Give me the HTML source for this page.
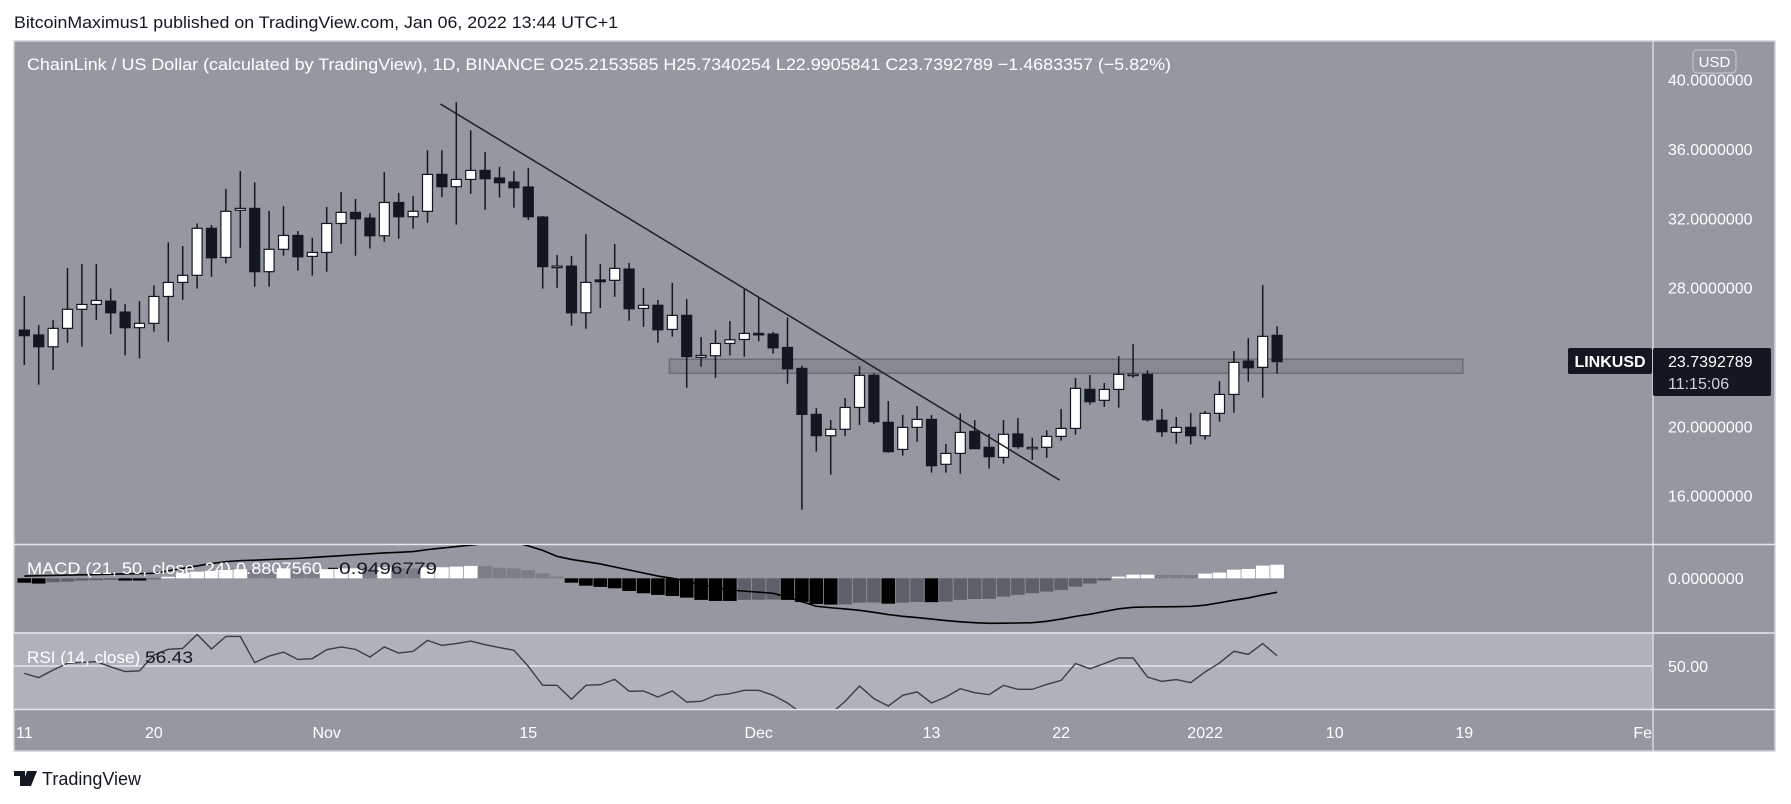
<!DOCTYPE html>
<html><head><meta charset="utf-8"><title>LINKUSD</title>
<style>
html,body{margin:0;padding:0;background:#fff;width:1791px;height:804px;overflow:hidden}
svg{display:block;font-family:"Liberation Sans","DejaVu Sans",sans-serif}
</style></head>
<body>
<svg id="chart" width="1791" height="804" viewBox="0 0 1791 804">
<defs>
<clipPath id="clipMain"><rect x="14" y="42" width="1639" height="502"/></clipPath>
<clipPath id="clipMacd"><rect x="14" y="545" width="1639" height="87"/></clipPath>
<clipPath id="clipRsi"><rect x="14" y="634" width="1639" height="75"/></clipPath>
</defs>
<text x="14" y="28" font-size="17" fill="#131722" textLength="604" lengthAdjust="spacingAndGlyphs">BitcoinMaximus1 published on TradingView.com, Jan 06, 2022 13:44 UTC+1</text>
<rect x="14" y="41" width="1761" height="710" fill="#9598a1" stroke="#d1d4dc" stroke-width="1.5"/>
<rect x="14" y="633" width="1639" height="76" fill="#afb2ba"/>
<line x1="14" y1="544.5" x2="1775" y2="544.5" stroke="#e8e9ec" stroke-width="1.5"/>
<line x1="14" y1="633" x2="1775" y2="633" stroke="#e8e9ec" stroke-width="1.5"/>
<line x1="14" y1="709.5" x2="1775" y2="709.5" stroke="#e8e9ec" stroke-width="1.5"/>
<line x1="14" y1="666" x2="1653" y2="666" stroke="#eef0f3" stroke-width="1.2"/>
<line x1="1653" y1="41" x2="1653" y2="751" stroke="#e8e9ec" stroke-width="1.2"/>
<g id="gMain" clip-path="url(#clipMain)"></g>
<g id="gMacd" clip-path="url(#clipMacd)"></g>
<g id="gRsi" clip-path="url(#clipRsi)"></g>
<g id="gAxis"></g>
<text x="27" y="70" font-size="17" fill="#ffffff" textLength="1144" lengthAdjust="spacingAndGlyphs">ChainLink / US Dollar (calculated by TradingView), 1D, BINANCE  O25.2153585  H25.7340254  L22.9905841  C23.7392789  −1.4683357 (−5.82%)</text>
<text x="27" y="574" font-size="17"><tspan fill="#ffffff" textLength="300" lengthAdjust="spacingAndGlyphs">MACD (21, 50, close, 24)  0.8807560 </tspan><tspan fill="#131722" textLength="110" lengthAdjust="spacingAndGlyphs"> −0.9496779</tspan></text>
<text x="27" y="663" font-size="17"><tspan fill="#ffffff" textLength="118" lengthAdjust="spacingAndGlyphs">RSI (14, close) </tspan><tspan fill="#131722" textLength="48" lengthAdjust="spacingAndGlyphs"> 56.43</tspan></text>
<rect x="1693" y="50" width="43" height="23" rx="4" fill="none" stroke="#c8cad0" stroke-width="1"/>
<text x="1714.5" y="67" font-size="15" fill="#ffffff" text-anchor="middle">USD</text>
<rect x="1568" y="348" width="84" height="26" rx="2" fill="#131722"/>
<text x="1610" y="367" font-size="16" fill="#ffffff" text-anchor="middle" font-weight="bold">LINKUSD</text>
<rect x="1653" y="348" width="118" height="48" rx="2" fill="#131722"/>
<text x="1668" y="367" font-size="16" fill="#ffffff">23.7392789</text>
<text x="1668" y="389" font-size="16" fill="#d1d4dc">11:15:06</text>
<text x="1668" y="584" font-size="16" fill="#ffffff">0.0000000</text>
<text x="1668" y="672" font-size="16" fill="#ffffff">50.00</text>
<g>
<path d="M14 771 h11 v15 h-5 v-10 h-6z M27 771 h4 l-4 15 h-5z M31 771 h6 l-6 15 h-4z" fill="#131722"/>
<text x="42" y="785" font-size="18" fill="#131722">TradingView</text>
</g>
</svg>
<script>
// ---- data (Oct 11 2021 .. Jan 6 2022, daily) ----
const opens  = [25.55,25.27,24.59,25.65,26.75,27.03,27.22,26.59,25.69,25.94,27.49,28.30,28.71,31.42,29.74,32.46,32.57,28.92,30.21,31.01,29.80,30.03,31.70,32.34,32.01,30.99,32.91,32.09,32.40,34.53,33.82,34.24,34.76,34.32,34.09,33.80,32.07,29.22,29.24,26.55,28.44,28.42,29.07,26.80,26.98,25.59,26.40,23.98,24.07,24.78,25.01,25.36,25.32,24.55,23.34,20.69,19.46,19.83,21.09,22.94,20.23,18.67,19.94,20.40,17.81,18.44,19.71,18.79,18.21,19.56,18.77,18.79,19.42,19.88,22.13,21.50,22.13,23.00,23.00,20.35,19.65,19.94,19.46,20.75,21.84,23.76,23.40,25.25];
const highs  = [27.52,25.84,26.13,29.13,29.36,29.36,27.95,27.05,27.22,28.13,30.61,30.40,31.70,31.61,33.69,34.72,34.07,32.42,32.70,31.26,30.86,32.65,33.51,33.11,32.28,34.66,33.46,33.28,35.92,35.92,38.69,37.07,35.82,34.97,34.72,34.89,32.13,29.88,29.82,31.09,29.36,30.51,29.42,27.98,27.29,28.27,27.34,25.15,25.55,26.07,27.96,27.46,25.44,26.28,23.49,21.05,20.36,21.63,23.48,23.06,21.46,20.66,21.17,20.65,18.98,20.74,20.36,19.56,20.36,20.48,19.33,19.77,21.00,22.79,22.96,22.50,24.05,24.74,23.23,21.00,20.54,20.77,20.88,22.61,24.34,25.09,28.15,25.77];
const lows   = [23.54,22.40,23.25,24.82,24.59,26.13,25.32,24.10,23.92,25.46,24.88,27.30,27.94,28.63,29.40,30.30,28.05,28.05,29.84,28.98,28.69,28.92,30.53,29.84,30.25,30.65,30.82,31.40,31.74,33.22,31.63,33.41,32.49,33.19,32.61,31.90,27.94,27.99,25.80,25.63,26.82,27.47,26.09,25.74,24.82,25.17,22.23,23.44,22.80,24.09,24.01,24.90,24.19,22.46,15.19,18.54,17.21,19.44,20.07,20.14,18.48,18.31,19.11,17.33,17.33,17.27,18.71,17.56,17.85,18.71,18.06,18.19,19.17,19.52,21.25,21.13,21.08,22.80,20.27,19.40,19.00,18.96,19.23,20.27,20.79,22.57,21.65,23.04];
const closes = [25.23,24.59,25.65,26.75,27.03,27.26,26.55,25.69,25.94,27.49,28.30,28.71,31.42,29.72,32.40,32.57,28.92,30.21,31.01,29.78,30.03,31.70,32.34,31.97,30.99,32.91,32.09,32.40,34.53,33.82,34.24,34.76,34.28,34.05,33.76,32.09,29.21,29.24,26.55,28.30,28.34,29.11,26.78,26.98,25.57,26.40,24.02,24.09,24.78,24.99,25.36,25.30,24.53,23.32,20.69,19.46,19.83,21.09,22.94,20.27,18.54,19.94,20.40,17.73,18.44,19.65,18.71,18.25,19.54,18.83,18.79,19.42,19.88,22.19,21.42,22.13,23.00,23.01,20.38,19.69,19.94,19.46,20.75,21.84,23.69,23.38,25.19,23.73];
const macdHist = [-0.29,-0.35,-0.26,-0.22,-0.15,-0.13,-0.10,-0.15,-0.15,-0.05,0.10,0.33,0.44,0.49,0.55,0.60,0.55,0.50,0.66,0.55,0.50,0.60,0.66,0.66,0.60,0.73,0.66,0.65,0.73,0.73,0.77,0.82,0.80,0.70,0.66,0.55,0.33,0.11,-0.29,-0.49,-0.57,-0.66,-0.84,-0.99,-1.10,-1.17,-1.28,-1.43,-1.50,-1.50,-1.43,-1.42,-1.41,-1.43,-1.57,-1.70,-1.74,-1.73,-1.61,-1.60,-1.68,-1.61,-1.57,-1.58,-1.55,-1.43,-1.37,-1.36,-1.21,-1.10,-0.99,-0.88,-0.77,-0.55,-0.35,-0.15,0.11,0.24,0.24,0.23,0.22,0.21,0.31,0.38,0.57,0.62,0.84,0.90];
const macdLine = [0.15,0.17,0.19,0.21,0.23,0.25,0.27,0.29,0.31,0.33,0.50,0.66,0.82,0.98,1.10,1.17,1.20,1.24,1.28,1.32,1.38,1.44,1.50,1.56,1.62,1.68,1.72,1.77,1.90,2.00,2.10,2.20,2.30,2.40,2.40,2.15,1.85,1.45,1.25,1.10,0.95,0.75,0.55,0.35,0.15,0.00,-0.20,-0.40,-0.60,-0.77,-0.85,-0.92,-0.99,-1.25,-1.55,-1.85,-1.95,-2.03,-2.12,-2.25,-2.40,-2.52,-2.60,-2.70,-2.80,-2.88,-2.94,-2.98,-2.97,-2.96,-2.94,-2.85,-2.70,-2.52,-2.38,-2.20,-2.02,-1.92,-1.90,-1.89,-1.88,-1.86,-1.78,-1.62,-1.45,-1.30,-1.10,-0.93];
const rsiValues = [45.4,42.7,47.5,51.7,52.2,52.7,49.5,46.5,47.0,56.9,60.4,61.0,69.8,60.6,68.5,68.5,52.1,56.2,58.7,54.1,54.6,60.2,61.9,60.4,55.6,61.9,58.1,59.2,66.0,62.9,64.0,65.6,63.3,61.5,59.8,49.8,37.9,37.9,29.2,37.9,38.3,41.7,34.2,34.4,30.6,34.4,27.5,27.9,31.7,32.7,34.8,34.8,31.7,26.9,20.2,16.0,20.0,27.9,37.5,29.6,25.0,31.7,33.8,26.9,30.6,35.8,33.3,32.1,37.9,35.4,35.4,38.5,41.0,51.5,48.3,51.5,55.0,55.0,43.1,40.4,41.5,39.6,46.3,51.9,59.2,57.3,64.0,56.4];
const priceTicks = [16,20,28,32,36,40];
const timeLabels = ["11","20","Nov","15","Dec","13","22","2022","10","19","Fe"];
const timeLabelIdx = [0,9,21,35,51,63,72,82,91,100,113];
const zone = {startIdx:44.8, endIdx:99.9, top:23.87, bottom:23.06};
const trend = {i1:28.9, p1:38.59, i2:71.9, p2:16.9};

// ---- axes ----
const xAt = i => 24.3 + i*14.4;
const yPrice = p => 495.7 - (p-16)*17.34;
const yMacd = v => 578.3 - v*15.1;
const yRsi = r => 666 - (r-50)*1.6;
const NS = "http://www.w3.org/2000/svg";
function mk(tag, parent, attrs){ const e=document.createElementNS(NS,tag); for(const k in attrs) e.setAttribute(k,attrs[k]); parent.appendChild(e); return e; }

const gMain=document.getElementById('gMain'), gMacd=document.getElementById('gMacd'), gRsi=document.getElementById('gRsi'), gAxis=document.getElementById('gAxis');

// zone
let z=mk('rect',gMain,{x:xAt(zone.startIdx),y:yPrice(zone.top),width:xAt(zone.endIdx)-xAt(zone.startIdx),height:yPrice(zone.bottom)-yPrice(zone.top),fill:'#868992',stroke:'#6a6d75','stroke-width':1.5});



// candles
for(let i=0;i<opens.length;i++){
  const up = closes[i]>=opens[i];
  const x = xAt(i);
  const g = mk('g',gMain,{});
  
  
  mk('line',g,{x1:x,x2:x,y1:yPrice(highs[i]),y2:yPrice(lows[i]),stroke:'#131722','stroke-width':1.5});
  const top=yPrice(Math.max(opens[i],closes[i])), bot=yPrice(Math.min(opens[i],closes[i]));
  mk('rect',g,{x:x-5,y:top,width:10,height:Math.max(1.5,bot-top),fill:up?'#ffffff':'#131722',stroke:'#131722','stroke-width':1.2});
}

// trend line
const tl=mk('line',gMain,{x1:xAt(trend.i1),y1:yPrice(trend.p1),x2:xAt(trend.i2),y2:yPrice(trend.p2),stroke:'#1e1f23','stroke-width':1.5});



// macd histogram
for(let i=0;i<macdHist.length;i++){
  const v=macdHist[i], prev=i>0?macdHist[i-1]:v;
  let col;
  if(v>=0) col = v>=prev?'#ffffff':'#7b7e87';
  else col = v<=prev?'#000000':'#5d6068';
  const y0=yMacd(0), y1=yMacd(v);
  const r=mk('rect',gMacd,{x:xAt(i)-6.8,y:Math.min(y0,y1),width:13.6,height:Math.max(1,Math.abs(y1-y0)),fill:col});
  
  
}
const mp=mk('polyline',gMacd,{points:macdLine.map((v,i)=>xAt(i)+','+yMacd(v)).join(' '),fill:'none',stroke:'#000000','stroke-width':1.6});



// rsi
const rp=mk('polyline',gRsi,{points:rsiValues.map((v,i)=>xAt(i)+','+yRsi(v)).join(' '),fill:'none',stroke:'#3b3d42','stroke-width':1.4});



// price ticks
priceTicks.forEach(p=>{
  const t=mk('text',gAxis,{x:1668,y:yPrice(p)+6,'font-size':16,fill:'#ffffff'});
  t.textContent=p.toFixed(7);
  
  
});
// time labels
timeLabels.forEach((s,k)=>{
  const x=xAt(timeLabelIdx[k]);
  const t=mk('text',gAxis,{x:x,y:738,'font-size':16,fill:'#ffffff','text-anchor':k===timeLabels.length-1?'end':'middle'});
  if(k===timeLabels.length-1) t.setAttribute('x',1652);
  t.textContent=s;
  
  
});
</script>
</body></html>
